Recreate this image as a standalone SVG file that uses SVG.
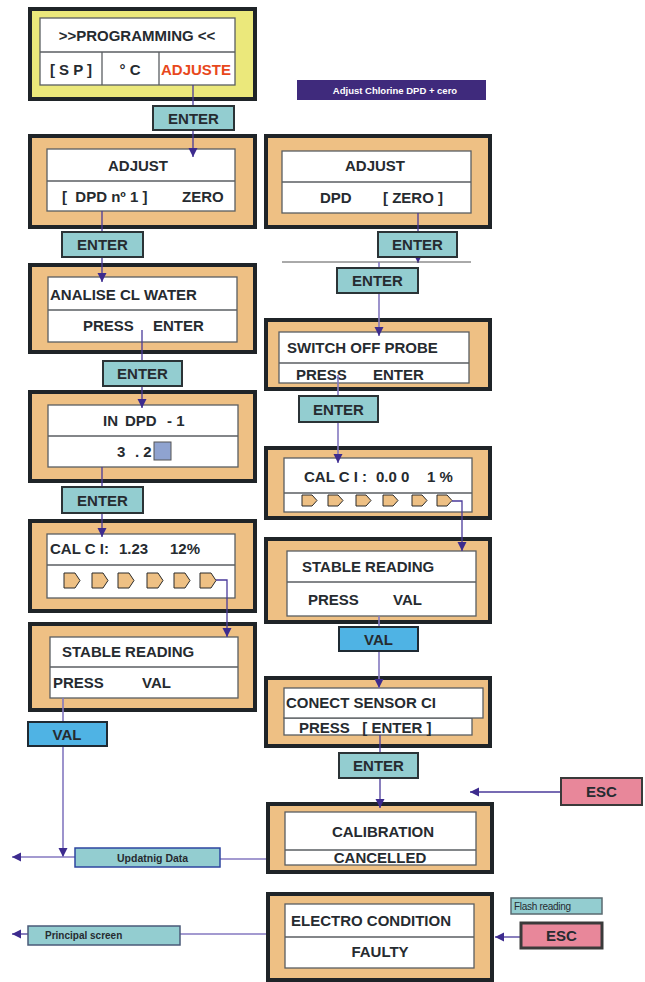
<svg xmlns="http://www.w3.org/2000/svg" width="645" height="982" viewBox="0 0 645 982">
<style>
.ob{fill:#eec084;stroke:#1f2428;stroke-width:4}
.yb{fill:#ebe87b;stroke:#1f2428;stroke-width:4}
.ib{fill:#fff;stroke:#5a5e62;stroke-width:1.3}
.dv{stroke:#5a5e62;stroke-width:1.3}
.bt{fill:#93cdd0;stroke:#2b3336;stroke-width:2}
.bv{fill:#4fb3e4;stroke:#1f2a33;stroke-width:2}
.be{fill:#e8879a;stroke:#3a3a3a;stroke-width:2}
.bs{fill:#93cdd0;stroke:#4a5a78;stroke-width:1.5}
.t{font-family:"Liberation Sans",Arial,sans-serif;font-weight:bold;font-size:15px;fill:#262b30;white-space:pre}
.m{text-anchor:middle}
.s{font-family:"Liberation Sans",Arial,sans-serif;font-weight:bold;font-size:10px;fill:#262b30;white-space:pre}
.pg{fill:#eec084;stroke:#2a2a2a;stroke-width:1}
.c{fill:none;stroke:#4a3a9a;stroke-width:1.3}
.cl{fill:none;stroke:#8478c0;stroke-width:1.6}
</style>
<defs>
<marker id="a" viewBox="0 0 10 10" refX="10" refY="5" markerWidth="9" markerHeight="10" markerUnits="userSpaceOnUse" orient="auto">
<path d="M0,0 L10,5 L0,10 z" fill="#3d2b8e"/>
</marker>
<marker id="as" viewBox="0 0 10 10" refX="10" refY="5" markerWidth="5" markerHeight="6" markerUnits="userSpaceOnUse" orient="auto">
<path d="M0,0 L10,5 L0,10 z" fill="#3d2b8e"/>
</marker>
</defs>

<g id="programming">
<rect class="yb" x="30" y="9" width="225" height="90"/>
<rect class="ib" x="40" y="18" width="195" height="67"/>
<line class="dv" x1="40" y1="52" x2="235" y2="52"/>
<line class="dv" x1="102" y1="52" x2="102" y2="85"/>
<line class="dv" x1="159" y1="52" x2="159" y2="85"/>
<text class="t m" x="137" y="41">&gt;&gt;PROGRAMMING &lt;&lt;</text>
<text class="t m" x="71" y="75">[ S P ]</text>
<text class="t m" x="130" y="75">° C</text>
<text class="t m" x="196" y="75" style="fill:#e8481c">ADJUSTE</text>
</g>

<g id="banner">
<rect x="297" y="80" width="189" height="20" fill="#3f2a7c"/>
<text class="s m" x="395" y="93.5" style="fill:#fff;font-size:9.5px">Adjust Chlorine DPD + cero</text>
</g>

<g id="adjust-dpd">
<rect class="ob" x="30" y="136" width="225" height="91"/>
<rect class="ib" x="47" y="149" width="188" height="62"/>
<line class="dv" x1="47" y1="181" x2="235" y2="181"/>
<text class="t m" x="138" y="171">ADJUST</text>
<text class="t" x="62" y="202">[  DPD nº 1 ]</text>
<text class="t" x="182" y="202">ZERO</text>
</g>

<g id="adjust-zero">
<rect class="ob" x="266" y="136" width="224" height="91"/>
<rect class="ib" x="282" y="151" width="189" height="62"/>
<line class="dv" x1="282" y1="182" x2="471" y2="182"/>
<text class="t m" x="375" y="171">ADJUST</text>
<text class="t" x="320" y="203">DPD</text>
<text class="t" x="383" y="203">[ ZERO ]</text>
</g>

<g id="analise">
<rect class="ob" x="30" y="265" width="225" height="87"/>
<rect class="ib" x="48" y="277" width="189" height="65"/>
<line class="dv" x1="48" y1="310" x2="237" y2="310"/>
<text class="t" x="50" y="300">ANALISE CL WATER</text>
<text class="t" x="83" y="331">PRESS</text>
<text class="t" x="153" y="331">ENTER</text>
</g>

<g id="switch-off">
<rect class="ob" x="266" y="320" width="224" height="69"/>
<rect class="ib" x="279" y="332" width="190" height="51"/>
<line class="dv" x1="279" y1="363" x2="469" y2="363"/>
<text class="t" x="287" y="353">SWITCH OFF PROBE</text>
<text class="t" x="296" y="380">PRESS</text>
<text class="t" x="373" y="380">ENTER</text>
</g>

<g id="in-dpd">
<rect class="ob" x="30" y="392" width="225" height="89"/>
<rect class="ib" x="48" y="405" width="190" height="62"/>
<line class="dv" x1="48" y1="436" x2="238" y2="436"/>
<text class="t" x="103" y="426">IN</text>
<text class="t" x="125" y="426">DPD</text>
<text class="t" x="167" y="426">- 1</text>
<text class="t" x="117" y="457">3</text>
<text class="t" x="135" y="457">. 2</text>
<rect x="154" y="442" width="17" height="18" fill="#8fa3d0" stroke="#555" stroke-width="1"/>
</g>

<g id="cal-right">
<rect class="ob" x="266" y="448" width="224" height="70"/>
<rect class="ib" x="284" y="458" width="188" height="54"/>
<line class="dv" x1="284" y1="493" x2="472" y2="493"/>
<text class="t" x="304" y="482">CAL C I :</text>
<text class="t" x="376" y="482">0.0 0</text>
<text class="t" x="427" y="482">1 %</text>
<path class="pg" d="M302,495h10l5,5.5l-5,5.5h-10z"/>
<path class="pg" d="M328,495h10l5,5.5l-5,5.5h-10z"/>
<path class="pg" d="M356,495h10l5,5.5l-5,5.5h-10z"/>
<path class="pg" d="M383,495h10l5,5.5l-5,5.5h-10z"/>
<path class="pg" d="M412,495h10l5,5.5l-5,5.5h-10z"/>
<path class="pg" d="M437,495h10l5,5.5l-5,5.5h-10z"/>
</g>

<g id="cal-left">
<rect class="ob" x="30" y="521" width="225" height="90"/>
<rect class="ib" x="47" y="534" width="188" height="64"/>
<line class="dv" x1="47" y1="565" x2="235" y2="565"/>
<text class="t" x="50" y="554">CAL C I:</text>
<text class="t" x="119" y="554">1.23</text>
<text class="t" x="170" y="554">12%</text>
<path class="pg" d="M64,573h11l5,7.5l-5,7.5h-11z"/>
<path class="pg" d="M92,573h11l5,7.5l-5,7.5h-11z"/>
<path class="pg" d="M118,573h11l5,7.5l-5,7.5h-11z"/>
<path class="pg" d="M147,573h11l5,7.5l-5,7.5h-11z"/>
<path class="pg" d="M174,573h11l5,7.5l-5,7.5h-11z"/>
<path class="pg" d="M200,573h11l5,7.5l-5,7.5h-11z"/>
</g>

<g id="stable-right">
<rect class="ob" x="266" y="539" width="224" height="83"/>
<rect class="ib" x="287" y="551" width="189" height="65"/>
<line class="dv" x1="287" y1="582" x2="476" y2="582"/>
<text class="t" x="302" y="572">STABLE READING</text>
<text class="t" x="308" y="605">PRESS</text>
<text class="t" x="393" y="605">VAL</text>
</g>

<g id="stable-left">
<rect class="ob" x="30" y="624" width="225" height="86"/>
<rect class="ib" x="50" y="637" width="188" height="61"/>
<line class="dv" x1="50" y1="667" x2="238" y2="667"/>
<text class="t" x="62" y="657">STABLE READING</text>
<text class="t" x="53" y="688">PRESS</text>
<text class="t" x="142" y="688">VAL</text>
</g>

<g id="conect-sensor">
<rect class="ob" x="266" y="678" width="224" height="68"/>
<rect class="ib" x="284" y="718" width="188" height="17"/>
<rect class="ib" x="284" y="688" width="199" height="30"/>
<text class="t" x="286" y="708">CONECT SENSOR CI</text>
<text class="t" x="299" y="733">PRESS   [ ENTER ]</text>
</g>

<g id="calibration">
<rect class="ob" x="268" y="804" width="224" height="68"/>
<rect class="ib" x="285" y="812" width="191" height="53"/>
<line class="dv" x1="285" y1="850" x2="476" y2="850"/>
<text class="t m" x="383" y="837">CALIBRATION</text>
<text class="t m" x="380" y="863">CANCELLED</text>
</g>

<g id="electro">
<rect class="ob" x="268" y="894" width="224" height="86"/>
<rect class="ib" x="285" y="904" width="189" height="64"/>
<line class="dv" x1="285" y1="937" x2="474" y2="937"/>
<text class="t" x="291" y="926">ELECTRO CONDITION</text>
<text class="t m" x="380" y="957">FAULTY</text>
</g>

<g id="connectors">
<line class="c" x1="193" y1="85" x2="193" y2="157" marker-end="url(#a)"/>
<line class="c" x1="102" y1="211" x2="102" y2="282" marker-end="url(#a)"/>
<line class="c" x1="142" y1="330" x2="142" y2="408" marker-end="url(#a)"/>
<line class="c" x1="102" y1="467" x2="102" y2="537" marker-end="url(#a)"/>
<polyline class="c" points="216,580 227,580 227,637" marker-end="url(#a)"/>
<line class="cl" x1="63" y1="698" x2="63" y2="857" marker-end="url(#a)"/>
<line class="cl" x1="75" y1="857" x2="12" y2="857" marker-end="url(#a)"/>
<line class="cl" x1="220" y1="859" x2="266" y2="859"/>
<line class="c" x1="418" y1="213" x2="418" y2="263" marker-end="url(#as)"/>
<line x1="282" y1="262" x2="471" y2="262" stroke="#555" stroke-width="1"/>
<line class="cl" x1="379" y1="262" x2="379" y2="336" marker-end="url(#a)"/>
<line class="cl" x1="338" y1="375" x2="338" y2="463" marker-end="url(#a)"/>
<polyline class="c" points="452,501 462,501 462,551" marker-end="url(#a)"/>
<line class="cl" x1="379" y1="616" x2="379" y2="688" marker-end="url(#a)"/>
<line class="c" x1="380" y1="735" x2="380" y2="808" marker-end="url(#a)"/>
<line class="c" x1="561" y1="792" x2="470" y2="792" marker-end="url(#a)"/>
<line class="c" x1="521" y1="937" x2="495" y2="937" marker-end="url(#a)"/>
<line class="cl" x1="266" y1="934" x2="180" y2="934"/>
<line class="c" x1="28" y1="934" x2="12" y2="934" marker-end="url(#a)"/>
</g>

<g id="enter-1"><rect class="bt" x="153" y="106" width="81" height="24"/><text class="t m" x="193.5" y="123.5">ENTER</text></g>
<g id="enter-2"><rect class="bt" x="62" y="232" width="81" height="25"/><text class="t m" x="102.5" y="250">ENTER</text></g>
<g id="enter-3"><rect class="bt" x="103" y="361" width="79" height="25"/><text class="t m" x="142.5" y="379">ENTER</text></g>
<g id="enter-4"><rect class="bt" x="62" y="487" width="81" height="26"/><text class="t m" x="102.5" y="505.5">ENTER</text></g>
<g id="val-left"><rect class="bv" x="28" y="722" width="79" height="24"/><text class="t m" x="67" y="739.5">VAL</text></g>
<g id="enter-r1"><rect class="bt" x="378" y="232" width="79" height="25"/><text class="t m" x="417.5" y="250">ENTER</text></g>
<g id="enter-r2"><rect class="bt" x="337" y="268" width="81" height="25"/><text class="t m" x="377.5" y="286">ENTER</text></g>
<g id="enter-r3"><rect class="bt" x="299" y="396" width="79" height="26"/><text class="t m" x="338.5" y="414.5">ENTER</text></g>
<g id="val-right"><rect class="bv" x="339" y="627" width="79" height="24"/><text class="t m" x="378.5" y="644.5">VAL</text></g>
<g id="enter-r4"><rect class="bt" x="339" y="753" width="79" height="25"/><text class="t m" x="378.5" y="771">ENTER</text></g>
<g id="esc-1"><rect class="be" x="561" y="778" width="81" height="27"/><text class="t m" x="601.5" y="797">ESC</text></g>
<g id="esc-2"><rect class="be" x="521" y="923" width="81" height="25" style="stroke-width:3"/><text class="t m" x="561.5" y="941">ESC</text></g>
<g id="updating-data"><rect class="bs" x="75" y="848" width="145" height="19" style="stroke:#2e46a0"/><text class="s" x="117" y="861.5" style="font-size:10.5px">Updatnig Data</text></g>
<g id="principal-screen"><rect class="bs" x="28" y="926" width="152" height="19"/><text class="s" x="45" y="938.5">Principal screen</text></g>
<g id="flash-reading"><rect class="bs" x="511" y="898" width="91" height="16" style="stroke:#5a6a70"/><text class="s" x="514" y="910" style="font-weight:normal;letter-spacing:-0.3px">Flash reading</text></g>
</svg>
